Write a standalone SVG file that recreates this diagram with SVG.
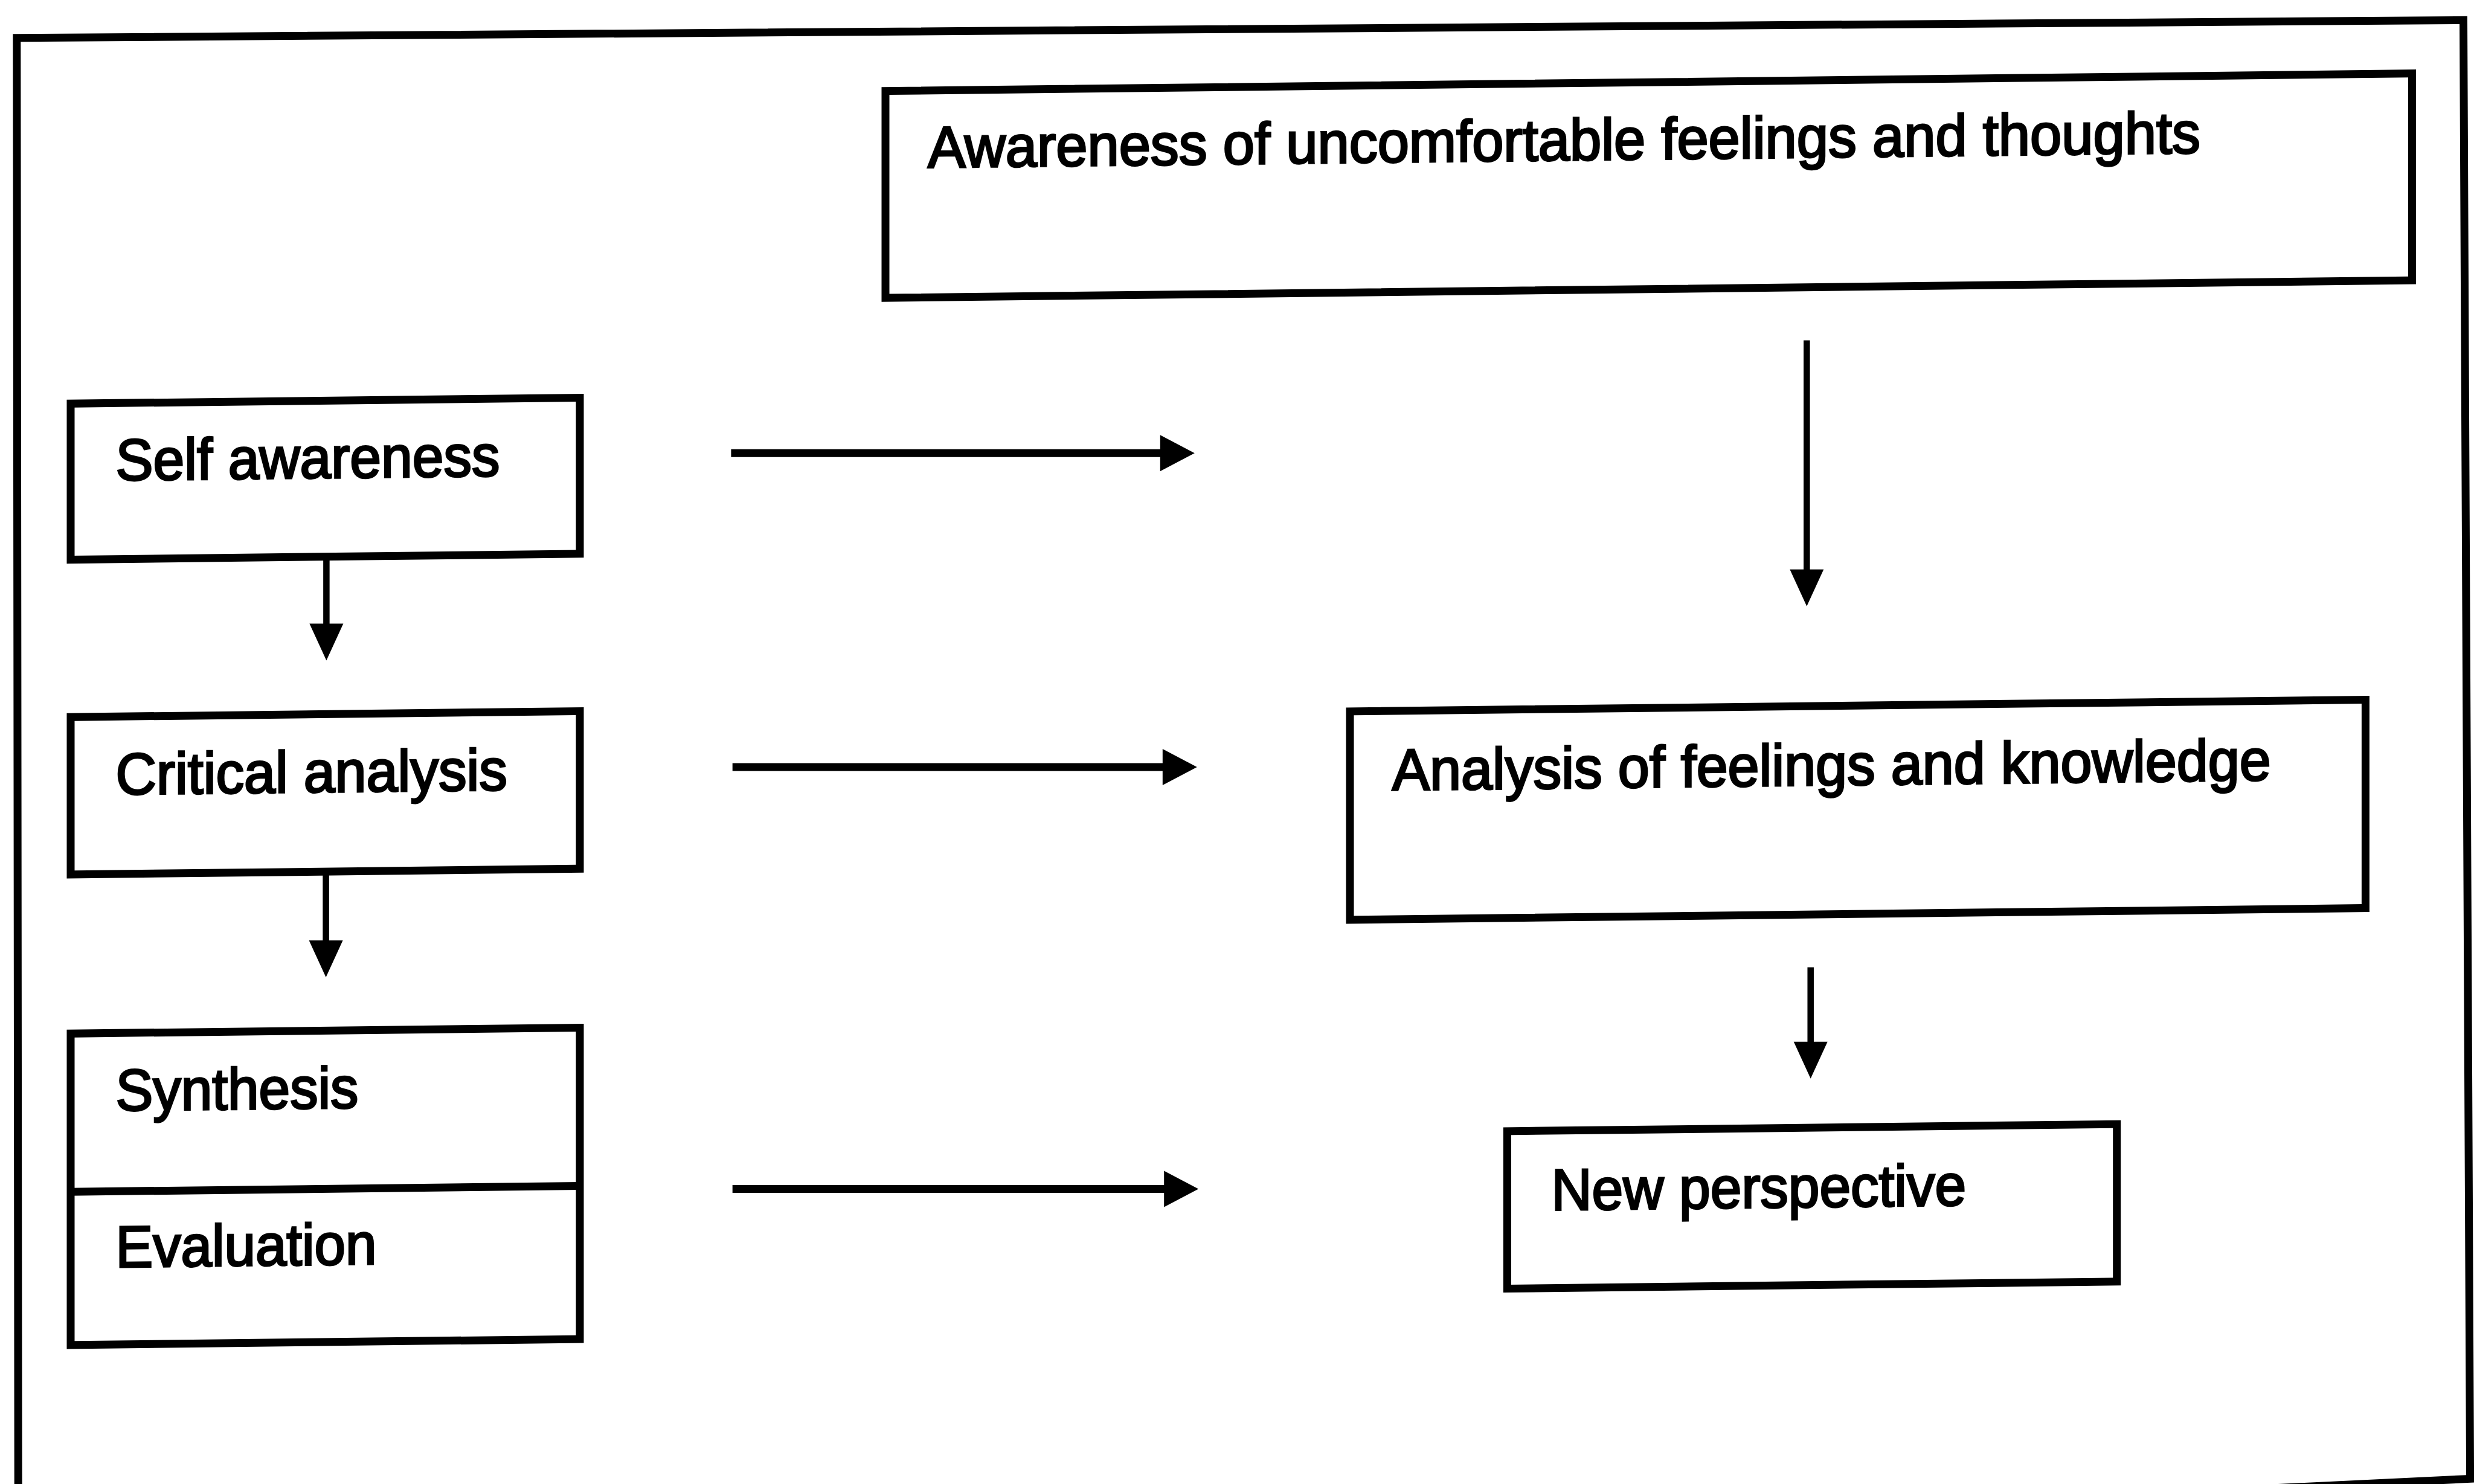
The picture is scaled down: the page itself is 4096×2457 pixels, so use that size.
<svg xmlns="http://www.w3.org/2000/svg" width="4096" height="2457" viewBox="0 0 4096 2457">
<style>
.box{fill:none;stroke:#000;stroke-width:13;}
.lbl{font-family:"Liberation Sans",Arial,Helvetica,sans-serif;font-size:97px;fill:#000;stroke:#000;stroke-width:3.2;}
.h{stroke:#000;stroke-width:13;fill:none;}
.v{stroke:#000;stroke-width:10.5;fill:none;}
</style>
<defs>
<marker id="ah" markerUnits="userSpaceOnUse" markerWidth="60" markerHeight="62" refX="1" refY="30" orient="auto" overflow="visible"><path d="M0,0 L57,30 L0,60 Z" fill="#000"/></marker>
<marker id="av" markerUnits="userSpaceOnUse" markerWidth="62" markerHeight="58" refX="1" refY="28" orient="auto" overflow="visible"><path d="M0,0 L61,28 L0,56 Z" fill="#000"/></marker>
</defs>
<rect x="0" y="0" width="4096" height="2457" fill="#fff"/>
<g id="frame"><polygon points="27.8,62.8 4078.5,33.4 4089.6,2448.4 3655.7,2469 30.2,2485" fill="none" stroke="#000" stroke-width="13"/></g>
<g id="nodes" transform="matrix(1,-0.0115,0,1,0,23.55)">
<g id="awareness"><rect class="box" x="1466" y="144" width="2527.5" height="342.5"/><text class="lbl" x="1536" y="271.5" textLength="2107" lengthAdjust="spacingAndGlyphs">Awareness of uncomfortable feelings and thoughts</text></g>
<g id="self-awareness"><rect class="box" x="117" y="646" width="843" height="258.4"/><text class="lbl" x="191.5" y="774" textLength="636" lengthAdjust="spacingAndGlyphs">Self awareness</text></g>
<g id="critical-analysis"><rect class="box" x="117" y="1165" width="843" height="260.7"/><text class="lbl" x="191.5" y="1294" textLength="648.5" lengthAdjust="spacingAndGlyphs">Critical analysis</text></g>
<g id="synthesis-evaluation"><rect class="box" x="117" y="1689" width="843" height="515.6"/><line class="box" x1="117" y1="1951" x2="960" y2="1951"/><text class="lbl" x="191.5" y="1817.5" textLength="402" lengthAdjust="spacingAndGlyphs">Synthesis</text><text class="lbl" x="191.5" y="2076.6" textLength="432" lengthAdjust="spacingAndGlyphs">Evaluation</text></g>
<g id="analysis"><rect class="box" x="2235" y="1180" width="1681.4" height="345"/><text class="lbl" x="2304.7" y="1311.3" textLength="1455" lengthAdjust="spacingAndGlyphs">Analysis of feelings and knowledge</text></g>
<g id="new-perspective"><rect class="box" x="2495.4" y="1878" width="1009.3" height="260.6"/><text class="lbl" x="2568.5" y="2009.4" textLength="686.6" lengthAdjust="spacingAndGlyphs">New perspective</text></g>
</g>
<g id="connectors">
<line class="h" x1="1210.4" y1="750.2" x2="1921.8" y2="750.2" marker-end="url(#ah)"/>
<line class="h" x1="1212.7" y1="1270" x2="1925.8" y2="1270" marker-end="url(#ah)"/>
<line class="h" x1="1212.7" y1="1968.5" x2="1928.2" y2="1968.5" marker-end="url(#ah)"/>
<line class="v" x1="2991.3" y1="563.5" x2="2991.3" y2="943.7" marker-end="url(#av)"/>
<line class="v" x1="2997.7" y1="1601.4" x2="2997.7" y2="1725.7" marker-end="url(#av)"/>
<line class="v" x1="540.4" y1="921.9" x2="540.4" y2="1033.5" marker-end="url(#av)"/>
<line class="v" x1="539.6" y1="1443.2" x2="539.6" y2="1558" marker-end="url(#av)"/>
</g>
</svg>
